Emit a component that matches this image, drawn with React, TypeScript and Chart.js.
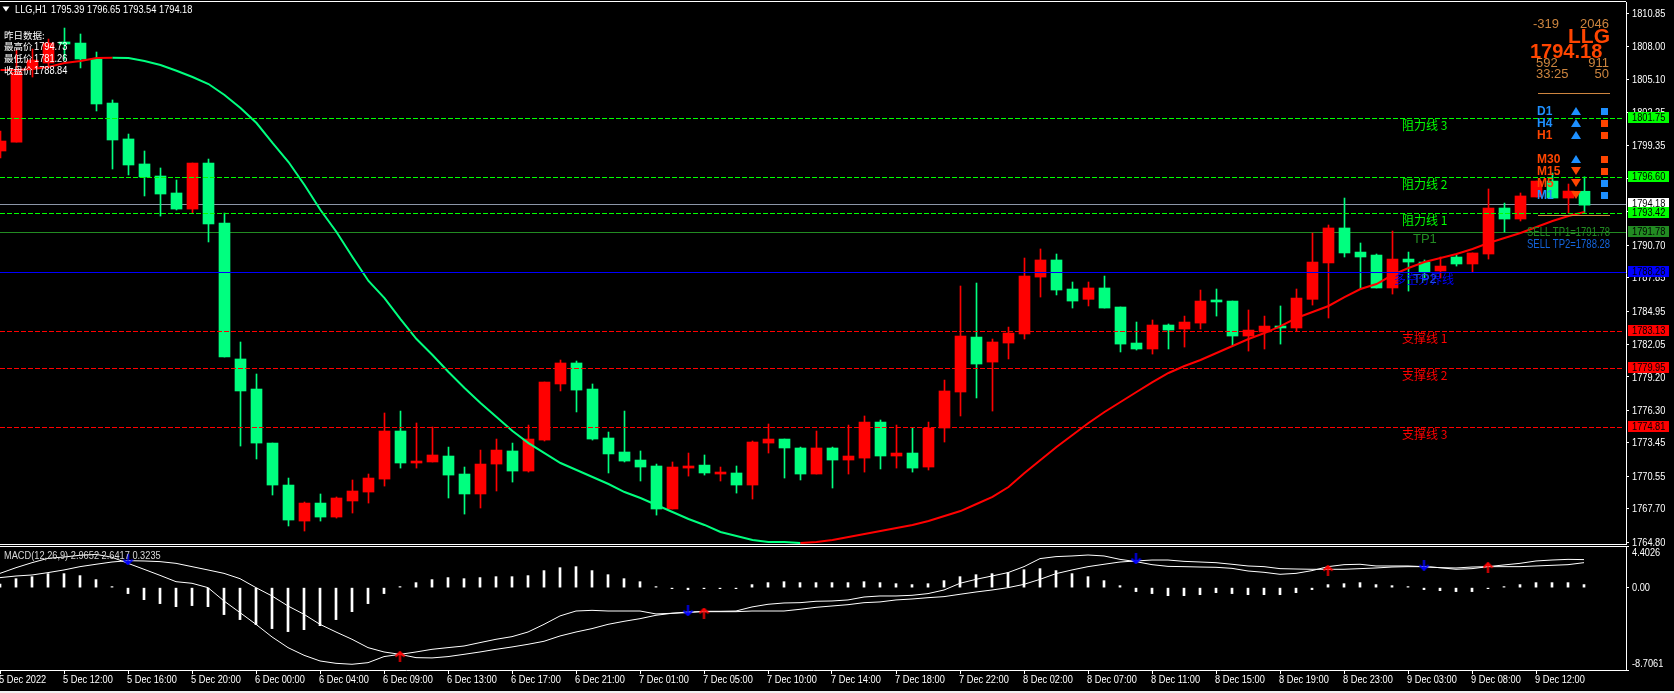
import React, { useEffect, useRef } from "react";
import { Chart, registerables } from "chart.js";

Chart.register(...registerables);

// ---------- price data (H1 candles) ----------
const opens = [
  1798.90,1799.68,1806.14,1806.57,1808.31,1808.31,1806.92,1803.08,1799.95,1797.77,
  1796.72,1795.24,1793.84,1797.85,1792.62,1780.77,1778.15,1773.44,1769.78,1766.64,
  1768.21,1766.99,1768.39,1769.17,1770.30,1774.49,1771.70,1771.79,1772.31,1770.74,
  1769.00,1771.61,1772.75,1771.00,1773.70,1778.59,1780.42,1778.15,1773.88,1772.66,
  1771.96,1771.44,1767.69,1771.26,1771.52,1770.74,1770.83,1769.78,1773.44,1773.79,
  1773.01,1770.74,1773.01,1771.96,1772.13,1775.27,1772.31,1772.57,1771.35,1774.75,
  1777.89,1782.68,1780.50,1782.16,1782.95,1787.91,1789.40,1786.87,1785.97,1786.96,
  1785.30,1782.16,1781.64,1783.73,1783.38,1783.90,1785.91,1785.82,1782.77,1783.12,
  1783.64,1783.47,1785.97,1789.14,1792.19,1790.09,1789.83,1786.96,1789.48,1789.22,
  1788.44,1789.66,1789.05,1789.92,1793.93,1792.97,1794.89,1796.28,1794.80,1795.39,
];
const closes = [
  1799.77,1805.79,1806.83,1808.31,1808.23,1806.92,1803.00,1799.86,1797.68,1796.63,
  1795.15,1793.84,1797.85,1792.54,1780.94,1777.98,1773.44,1769.78,1766.73,1768.21,
  1766.99,1768.65,1769.26,1770.39,1774.49,1771.70,1771.87,1772.40,1770.65,1769.00,
  1771.61,1772.83,1771.00,1773.79,1778.76,1780.42,1778.06,1773.79,1772.49,1771.87,
  1771.35,1767.69,1771.35,1771.44,1770.83,1770.83,1769.78,1773.53,1773.79,1773.01,
  1770.74,1773.01,1771.96,1772.31,1775.27,1772.31,1772.57,1771.26,1774.75,1777.98,
  1782.77,1780.33,1782.25,1783.03,1788.00,1789.40,1786.78,1785.82,1786.96,1785.21,
  1782.07,1781.64,1783.73,1783.29,1783.99,1785.82,1785.74,1782.77,1783.29,1783.64,
  1783.47,1786.08,1789.22,1792.19,1790.01,1789.66,1786.96,1789.48,1789.22,1788.35,
  1788.87,1789.05,1790.01,1793.93,1792.97,1794.98,1796.28,1794.80,1795.41,1794.18,
];
const highs = [
  1800.64,1807.70,1807.79,1808.66,1809.62,1809.10,1807.53,1803.35,1800.38,1798.90,
  1797.42,1796.37,1797.85,1798.20,1793.49,1782.25,1779.46,1773.44,1770.39,1768.30,
  1769.00,1768.74,1770.22,1770.74,1776.06,1776.23,1775.19,1774.84,1773.09,1771.35,
  1772.83,1773.79,1773.44,1775.01,1778.76,1780.68,1780.59,1778.59,1774.40,1776.23,
  1772.75,1771.61,1771.79,1772.57,1772.40,1771.35,1771.44,1773.62,1775.10,1773.79,
  1773.09,1774.49,1773.09,1775.01,1775.80,1775.45,1775.01,1774.75,1775.27,1778.93,
  1787.13,1787.39,1782.51,1783.55,1789.57,1790.36,1789.92,1787.48,1787.48,1788.00,
  1785.30,1783.99,1784.17,1783.82,1784.51,1786.78,1786.87,1785.82,1785.04,1784.51,
  1785.39,1786.87,1791.75,1792.45,1794.80,1790.88,1789.92,1791.92,1790.09,1789.40,
  1789.66,1789.83,1790.01,1795.59,1794.36,1795.24,1796.28,1796.98,1796.02,1796.65,
];
const lows = [
  1798.29,1799.68,1805.35,1806.22,1806.83,1806.14,1802.39,1797.33,1796.81,1794.98,
  1793.23,1793.76,1793.49,1790.97,1780.94,1773.18,1772.05,1768.91,1766.21,1765.77,
  1766.64,1766.90,1767.34,1768.21,1769.69,1771.26,1771.26,1771.79,1768.65,1767.25,
  1767.78,1769.26,1770.04,1770.91,1773.62,1777.98,1776.15,1773.70,1770.83,1771.79,
  1770.13,1767.16,1767.69,1770.56,1770.65,1770.13,1769.08,1768.56,1772.57,1770.39,
  1770.22,1770.74,1769.52,1770.74,1770.91,1771.18,1771.26,1770.91,1771.09,1773.53,
  1775.80,1777.37,1776.23,1780.77,1782.51,1786.17,1786.35,1785.21,1785.39,1785.21,
  1781.38,1781.55,1781.20,1781.64,1781.81,1783.38,1784.51,1781.99,1781.46,1781.64,
  1782.07,1783.21,1785.47,1784.34,1789.66,1786.87,1786.96,1786.43,1786.69,1787.65,
  1787.83,1788.87,1788.35,1789.48,1791.84,1792.80,1794.89,1794.80,1793.49,1793.54,
];
const movingAverage = [
  1805.96,1805.96,1806.05,1806.22,1806.57,1806.75,1807.01,1807.03,1807.01,1806.75,
  1806.40,1805.90,1805.35,1804.74,1803.78,1802.65,1801.34,1799.60,1797.94,1795.94,
  1793.76,1791.84,1789.66,1787.57,1786.08,1784.25,1782.51,1781.12,1779.63,1778.24,
  1776.93,1775.71,1774.49,1773.44,1772.57,1771.70,1771.09,1770.48,1769.87,1769.17,
  1768.65,1768.04,1767.43,1766.82,1766.30,1765.69,1765.34,1764.99,1764.81,1764.81,
  1764.73,1764.81,1764.99,1765.25,1765.51,1765.77,1766.03,1766.30,1766.64,1767.08,
  1767.51,1768.13,1768.74,1769.61,1770.83,1771.96,1773.09,1774.14,1775.19,1776.15,
  1777.02,1777.89,1778.76,1779.55,1780.16,1780.68,1781.29,1781.90,1782.51,1783.03,
  1783.64,1784.34,1784.86,1785.39,1786.17,1786.87,1787.30,1788.09,1788.70,1789.22,
  1789.57,1789.92,1790.36,1790.88,1791.31,1791.75,1792.27,1792.80,1793.23,1793.58,
];

// ---------- MACD data ----------
const macdFast = [
  1.51,2.11,2.64,3.10,3.24,3.42,3.52,3.21,2.57,1.94,
  1.30,0.63,0.46,0.00,-1.41,-2.64,-3.88,-5.21,-6.34,-7.15,
  -7.75,-8.00,-8.10,-7.93,-7.29,-7.05,-6.80,-6.52,-6.34,-6.17,
  -5.81,-5.46,-5.18,-4.69,-3.88,-2.99,-2.47,-2.40,-2.47,-2.47,
  -2.47,-2.78,-2.71,-2.64,-2.50,-2.50,-2.47,-2.04,-1.76,-1.62,
  -1.59,-1.44,-1.41,-1.30,-0.99,-0.88,-0.88,-0.81,-0.63,-0.25,
  0.46,0.88,1.23,1.59,2.22,3.07,3.28,3.35,3.45,3.35,
  2.99,2.75,2.43,2.25,2.22,2.18,2.15,2.04,1.76,1.62,
  1.41,1.51,1.80,2.22,2.43,2.47,2.29,2.29,2.29,2.22,
  2.11,1.94,2.01,2.22,2.40,2.57,2.82,2.92,2.99,2.9652,
];
const macdSignal = [
  1.06,1.23,1.34,1.59,1.87,2.22,2.47,2.71,2.85,2.82,
  2.75,2.57,2.22,1.87,1.51,0.95,0.00,-0.88,-1.94,-2.82,
  -3.88,-4.69,-5.46,-6.34,-6.80,-7.05,-7.40,-7.43,-7.29,-7.05,
  -6.80,-6.52,-6.27,-5.99,-5.67,-5.11,-4.69,-4.33,-3.88,-3.56,
  -3.28,-2.92,-2.71,-2.57,-2.54,-2.54,-2.54,-2.47,-2.47,-2.47,
  -2.29,-2.08,-1.94,-1.80,-1.59,-1.51,-1.30,-1.20,-1.06,-0.95,
  -0.70,-0.46,-0.25,0.00,0.35,0.88,1.48,1.87,2.22,2.47,
  2.71,2.82,2.92,2.92,2.78,2.71,2.64,2.47,2.29,2.22,
  2.01,1.97,1.94,1.94,1.94,2.01,2.08,2.18,2.22,2.22,
  2.11,2.08,2.18,2.22,2.22,2.22,2.29,2.36,2.43,2.6417,
];
const macdHistogram = [
  0.39,0.95,1.16,1.48,1.48,1.27,0.85,0.11,-0.63,-1.27,
  -1.69,-2.01,-1.90,-2.01,-2.85,-3.38,-3.91,-4.33,-4.65,-4.44,
  -4.02,-3.38,-2.54,-1.69,-0.63,0.11,0.53,0.85,1.06,0.95,
  1.06,1.16,1.16,1.27,1.80,2.11,2.22,1.80,1.37,0.95,
  0.63,0.11,-0.11,-0.21,-0.11,-0.11,-0.11,0.32,0.53,0.63,
  0.53,0.53,0.53,0.53,0.63,0.53,0.42,0.32,0.42,0.74,
  1.16,1.37,1.48,1.59,1.90,2.01,1.80,1.48,1.16,0.74,
  0.21,-0.42,-0.63,-0.85,-0.85,-0.74,-0.53,-0.63,-0.74,-0.74,
  -0.74,-0.53,-0.21,0.32,0.42,0.53,0.32,0.21,0.11,-0.21,
  -0.32,-0.42,-0.42,-0.11,0.11,0.32,0.53,0.53,0.53,0.3235,
];
const sellSignals = [[8, 2.96], [43, -2.43], [71, 3.07], [89, 2.38]];
const buySignals = [[25, -7.29], [44, -2.70], [83, 1.80], [93, 2.11]];

// ---------- axes ----------
const priceTicks = [
  1810.85,1808.00,1805.10,1802.25,1799.35,1796.50,1793.60,1790.70,1787.85,
  1784.95,1782.05,1779.20,1776.30,1773.45,1770.55,1767.70,1764.80,
];
const macdTicks = [4.4026, 0, -8.7061];
const macdTickTexts = ["4.4026", "0.00", "-8.7061"];
const timeLabels = [
  "5 Dec 2022","5 Dec 12:00","5 Dec 16:00","5 Dec 20:00","6 Dec 00:00","6 Dec 04:00","6 Dec 09:00",
  "6 Dec 13:00","6 Dec 17:00","6 Dec 21:00","7 Dec 01:00","7 Dec 05:00","7 Dec 10:00","7 Dec 14:00",
  "7 Dec 18:00","7 Dec 22:00","8 Dec 02:00","8 Dec 07:00","8 Dec 11:00","8 Dec 15:00","8 Dec 19:00",
  "8 Dec 23:00","9 Dec 03:00","9 Dec 08:00","9 Dec 12:00",
];

// ---------- horizontal levels ----------
const resistanceLevels = [1801.75, 1796.60, 1793.42];
const resistanceNames = ["阻力线 3", "阻力线 2", "阻力线 1"];
const supportLevels = [1783.13, 1779.95, 1774.81];
const supportNames = ["支撑线 1", "支撑线 2", "支撑线 3"];
const currentPrice = 1794.18;
const tp1Level = 1791.78;
const tp2Level = 1788.28;
const yesterdayNames = ["最高价", "最低价", "收盘价"];
const yesterdayValues = [1794.73, 1781.26, 1788.84];
const timeframes = ["D1", "H4", "H1", "M30", "M15", "M5", "M1"];
const tfUp = [true, true, true, true, false, false, false];
const tfBlueText = [true, true, false, false, false, false, true];
const tfBlueSquare = [true, false, false, false, false, true, true];

const GREEN = "#00FF7F";
const RED = "#FF0000";
const LIME = "#00FF00";
const FOREST = "#228B22";
const BLUE = "#0000FF";
const ORANGE = "#FF4500";
const PERU = "#CD853F";
const DODGER = "#1E90FF";
const SANS = '"Liberation Sans", sans-serif';
const AXIS_FONT = `11px ${SANS}`;
const AXIS_SQUEEZE = 0.84;
const CJK = '"Noto Sans CJK SC", sans-serif';
const X_MAX_PX = 1626;
const BAR_STEP = 16;

function put(ctx: CanvasRenderingContext2D, text: string, x: number, y: number, color: string, font: string, align: CanvasTextAlign = "left", squeeze = 1) {
  ctx.save();
  ctx.font = font;
  ctx.fillStyle = color;
  ctx.textAlign = align;
  ctx.textBaseline = "middle";
  ctx.translate(x, y);
  ctx.scale(squeeze, 1);
  ctx.fillText(text, 0, 0);
  ctx.restore();
}

const axisText = (ctx: CanvasRenderingContext2D, text: string, x: number, y: number, color = "#FFFFFF") =>
  put(ctx, text, x, y, color, AXIS_FONT, "left", AXIS_SQUEEZE);

function hline(ctx: CanvasRenderingContext2D, x0: number, x1: number, y: number, color: string) {
  ctx.fillStyle = color;
  ctx.fillRect(x0, y, x1 - x0, 1);
}

function dashedLine(ctx: CanvasRenderingContext2D, x1: number, y: number, color: string) {
  ctx.strokeStyle = color;
  ctx.lineWidth = 1;
  ctx.setLineDash([5, 2]);
  ctx.beginPath();
  ctx.moveTo(0, y + 0.5);
  ctx.lineTo(x1, y + 0.5);
  ctx.stroke();
  ctx.setLineDash([]);
}

function triangle(ctx: CanvasRenderingContext2D, cx: number, cy: number, w: number, h: number, up: boolean, color: string) {
  ctx.fillStyle = color;
  ctx.beginPath();
  if (up) {
    ctx.moveTo(cx, cy - h / 2);
    ctx.lineTo(cx + w / 2, cy + h / 2);
    ctx.lineTo(cx - w / 2, cy + h / 2);
  } else {
    ctx.moveTo(cx, cy + h / 2);
    ctx.lineTo(cx + w / 2, cy - h / 2);
    ctx.lineTo(cx - w / 2, cy - h / 2);
  }
  ctx.closePath();
  ctx.fill();
}

function arrowImage(color: string, up: boolean) {
  const c = document.createElement("canvas");
  c.width = 11;
  c.height = 11;
  const g = c.getContext("2d")!;
  g.strokeStyle = color;
  g.lineWidth = 2;
  g.beginPath();
  if (up) {
    g.moveTo(5.5, 11);
    g.lineTo(5.5, 1);
    g.moveTo(1, 5.5);
    g.lineTo(5.5, 1);
    g.lineTo(10, 5.5);
  } else {
    g.moveTo(5.5, 0);
    g.lineTo(5.5, 10);
    g.moveTo(1, 5.5);
    g.lineTo(5.5, 10);
    g.lineTo(10, 5.5);
  }
  g.stroke();
  return c;
}

// whole-pixel row of a price, so thin level lines stay crisp
const levelRow = (scale: any, value: number) => Math.floor(scale.getPixelForValue(value) - 0.2);

const mainOverlay = {
  id: "mainOverlay",
  beforeDatasetsDraw(chart: any) {
    const ctx: CanvasRenderingContext2D = chart.ctx;
    const y = chart.scales.y;
    ctx.save();
    hline(ctx, 0, X_MAX_PX, levelRow(y, currentPrice), "#8C96A8");
    hline(ctx, 0, X_MAX_PX, levelRow(y, tp1Level), FOREST);
    ctx.restore();
  },
  afterDatasetsDraw(chart: any) {
    const ctx: CanvasRenderingContext2D = chart.ctx;
    const y = chart.scales.y;
    ctx.save();
    resistanceLevels.forEach((v) => dashedLine(ctx, X_MAX_PX - 2, levelRow(y, v), LIME));
    supportLevels.forEach((v) => dashedLine(ctx, X_MAX_PX - 2, levelRow(y, v), RED));
    hline(ctx, 0, X_MAX_PX, levelRow(y, tp2Level), BLUE);
    ctx.restore();
  },
  afterDraw(chart: any) {
    const ctx: CanvasRenderingContext2D = chart.ctx;
    const y = chart.scales.y;
    ctx.save();
    // frame
    hline(ctx, 0, X_MAX_PX, 1, "#FFFFFF");
    hline(ctx, 0, X_MAX_PX, 544, "#FFFFFF");

    // axis labels
    priceTicks.forEach((v) => axisText(ctx, v.toFixed(2), 1632, y.getPixelForValue(v) + 0.5));

    // header
    triangle(ctx, 6, 9, 7, 5, false, "#FFFFFF");
    axisText(ctx, "LLG,H1", 15, 9.5);
    const last = opens.length - 1;
    [opens[last], highs[last], lows[last], closes[last]].forEach((v, i) => {
      axisText(ctx, v.toFixed(2), 51 + i * 36, 9.5);
    });
    // yesterday comment
    const cjkSmall = `9.5px ${CJK}`;
    put(ctx, "昨日数据:", 4, 35, "#FFFFFF", cjkSmall);
    yesterdayNames.forEach((n, i) => {
      const cy = 46.5 + i * 12;
      put(ctx, n, 4, cy, "#FFFFFF", cjkSmall);
      axisText(ctx, yesterdayValues[i].toFixed(2), 34, cy);
    });

    // level captions
    const cap = `12px ${CJK}`;
    resistanceLevels.forEach((v, i) => put(ctx, resistanceNames[i], 1402, y.getPixelForValue(v) + 7, LIME, cap));
    supportLevels.forEach((v, i) => put(ctx, supportNames[i], 1402, y.getPixelForValue(v) + 7, RED, cap));
    put(ctx, "TP1", 1413, y.getPixelForValue(tp1Level) + 7, FOREST, `13px ${SANS}`);
    put(ctx, "多空分界线", 1394, y.getPixelForValue(tp2Level) + 7, BLUE, cap);
    put(ctx, "TP2", 1413, y.getPixelForValue(tp2Level) + 7, "#1E50E0", `13px ${SANS}`);

    // right info panel
    const info = `13px ${SANS}`;
    put(ctx, "-319", 1533, 24, PERU, info);
    put(ctx, "2046", 1609, 24, PERU, info, "right");
    put(ctx, "LLG", 1610, 37, ORANGE, `bold 21px ${SANS}`, "right");
    put(ctx, currentPrice.toFixed(2), 1530, 52, ORANGE, `bold 20px ${SANS}`);
    put(ctx, "592", 1536, 63, PERU, info);
    put(ctx, "911", 1609, 63, PERU, info, "right");
    put(ctx, "33:25", 1536, 74, PERU, info);
    put(ctx, "50", 1609, 74, PERU, info, "right");
    hline(ctx, 1538, 1610, 93, PERU);
    hline(ctx, 1538, 1610, 215, PERU);

    // timeframe table
    const rowY = [112, 124, 136, 160, 172, 184, 196];
    timeframes.forEach((tf, i) => {
      put(ctx, tf, 1537, rowY[i], tfBlueText[i] ? DODGER : ORANGE, `bold 12px ${SANS}`);
      triangle(ctx, 1576, rowY[i] - 1, 10, 8, tfUp[i], tfUp[i] ? DODGER : ORANGE);
      ctx.fillStyle = tfBlueSquare[i] ? DODGER : ORANGE;
      ctx.fillRect(1601, rowY[i] - 4, 7, 7);
    });
    const sell = `13px ${SANS}`;
    put(ctx, `SELL TP1=${tp1Level.toFixed(2)}`, 1527, 232.5, FOREST, sell, "left", 0.73);
    put(ctx, `SELL TP2=${tp2Level.toFixed(2)}`, 1527, 244.5, "#1464DC", sell, "left", 0.73);

    // price boxes on the axis
    const boxes: [number, string][] = [
      [resistanceLevels[0], LIME],
      [resistanceLevels[1], LIME],
      [currentPrice, "#FFFFFF"],
      [resistanceLevels[2], LIME],
      [tp1Level, FOREST],
      [tp2Level, BLUE],
      [supportLevels[0], RED],
      [supportLevels[1], RED],
      [supportLevels[2], RED],
    ];
    boxes.forEach(([v, color]) => {
      const py = levelRow(y, v);
      ctx.fillStyle = color;
      ctx.fillRect(1628, py - 6, 41, 11);
      axisText(ctx, v.toFixed(2), 1632, py - 0.5, "#000000");
    });
    ctx.restore();
  },
};

const macdOverlay = {
  id: "macdOverlay",
  afterDraw(chart: any) {
    const ctx: CanvasRenderingContext2D = chart.ctx;
    const x = chart.scales.x;
    ctx.save();
    hline(ctx, 0, X_MAX_PX, 0, "#FFFFFF");
    const n = macdFast.length - 1;
    const title = `MACD(12,26,9) ${macdFast[n].toFixed(4)} ${macdSignal[n].toFixed(4)} ${macdHistogram[n].toFixed(4)}`;
    axisText(ctx, title, 4, 10, "#D8D8D8");
    const ys = [7, 42, 118];
    macdTickTexts.forEach((t, i) => axisText(ctx, t, 1632, ys[i]));
    timeLabels.forEach((label, i) => axisText(ctx, label, x.getPixelForValue(i * 4) - 1, 134));
    ctx.restore();
  },
};

export default function App() {
  const mainRef = useRef<HTMLCanvasElement>(null);
  const macdRef = useRef<HTMLCanvasElement>(null);

  useEffect(() => {
    document.body.style.margin = "0";
    document.body.style.background = "#000";
    document.body.style.overflow = "hidden";

    const idx = opens.map((_, i) => i);
    const colorOf = (i: number) => (closes[i] >= opens[i] ? RED : GREEN);
    const xMin = -0.5 / BAR_STEP;
    const xMax = xMin + X_MAX_PX / BAR_STEP;

    const main = new Chart(mainRef.current!, {
      type: "bar",
      data: {
        datasets: [
          {
            type: "bar",
            data: idx.map((i) => ({ x: i, y: [lows[i], highs[i]] })),
            backgroundColor: idx.map(colorOf),
            barThickness: 1,
            grouped: false,
            order: 12,
          },
          {
            type: "bar",
            data: idx.map((i) => ({ x: i, y: [opens[i], closes[i]] })),
            backgroundColor: idx.map(colorOf),
            barThickness: 11,
            minBarLength: 2,
            grouped: false,
            order: 11,
          },
          {
            type: "line",
            data: idx.map((i) => ({ x: i, y: movingAverage[i] })),
            borderWidth: 2,
            borderColor: RED,
            pointRadius: 0,
            order: 5,
            segment: {
              borderColor: (c: any) => (c.p0DataIndex >= 7 && c.p0DataIndex < 50 ? GREEN : RED),
            },
          },
        ] as any,
      },
      options: {
        responsive: false,
        animation: false,
        devicePixelRatio: 1,
        layout: { autoPadding: false, padding: { top: 2, bottom: 2, left: 0, right: 0 } },
        plugins: { legend: { display: false }, tooltip: { enabled: false } },
        scales: {
          x: { type: "linear", min: xMin, max: xMax, offset: false, display: false },
          y: {
            position: "right",
            min: 1764.64,
            max: 1811.89,
            afterFit: (s: any) => { s.width = 48; },
            afterBuildTicks: (s: any) => { s.ticks = priceTicks.map((value) => ({ value })); },
            grid: { drawOnChartArea: false, drawTicks: true, tickLength: 3, tickColor: "#FFFFFF", color: "#FFFFFF" },
            border: { display: true, color: "#FFFFFF" },
            ticks: { display: false, autoSkip: false },
          },
        },
      } as any,
      plugins: [mainOverlay],
    });

    const macd = new Chart(macdRef.current!, {
      type: "bar",
      data: {
        datasets: [
          {
            type: "bar",
            data: idx.map((i) => ({ x: i, y: macdHistogram[i] })),
            backgroundColor: "#FFFFFF",
            barThickness: 2,
            minBarLength: 1,
            order: 5,
          },
          {
            type: "line",
            data: idx.map((i) => ({ x: i, y: macdFast[i] })),
            borderColor: "#FFFFFF",
            borderWidth: 1,
            pointRadius: 0,
            order: 4,
          },
          {
            type: "line",
            data: idx.map((i) => ({ x: i, y: macdSignal[i] })),
            borderColor: "#FFFFFF",
            borderWidth: 1,
            pointRadius: 0,
            order: 3,
          },
          {
            type: "line",
            data: sellSignals.map(([x, y]) => ({ x, y })),
            showLine: false,
            pointStyle: arrowImage("#0000FF", false),
            order: 1,
          },
          {
            type: "line",
            data: buySignals.map(([x, y]) => ({ x, y })),
            showLine: false,
            pointStyle: arrowImage("#FF0000", true),
            order: 1,
          },
        ] as any,
      },
      options: {
        responsive: false,
        animation: false,
        devicePixelRatio: 1,
        layout: { autoPadding: false, padding: 0 },
        plugins: { legend: { display: false }, tooltip: { enabled: false } },
        scales: {
          x: {
            type: "linear",
            min: 0,
            max: X_MAX_PX / BAR_STEP,
            offset: false,
            afterFit: (s: any) => { s.height = 21; },
            afterBuildTicks: (s: any) => { s.ticks = timeLabels.map((_, i) => ({ value: i * 4 })); },
            grid: { drawOnChartArea: false, drawTicks: true, tickLength: 4, tickColor: "#FFFFFF", color: "#FFFFFF", offset: false },
            border: { display: true, color: "#FFFFFF" },
            ticks: { display: false, autoSkip: false },
          },
          y: {
            position: "right",
            min: macdTicks[2],
            max: macdTicks[0],
            afterFit: (s: any) => { s.width = 48; },
            afterBuildTicks: (s: any) => { s.ticks = macdTicks.map((value) => ({ value })); },
            grid: { drawOnChartArea: false, drawTicks: true, tickLength: 3, tickColor: "#FFFFFF", color: "#FFFFFF" },
            border: { display: true, color: "#FFFFFF" },
            ticks: { display: false, autoSkip: false },
          },
        },
      } as any,
      plugins: [macdOverlay],
    });

    return () => {
      main.destroy();
      macd.destroy();
    };
  }, []);

  return (
    <div style={{ position: "relative", width: 1674, height: 693, background: "#000", overflow: "hidden" }}>
      <canvas ref={mainRef} width={1674} height={546} style={{ position: "absolute", left: 0, top: 0, display: "block" }} />
      <canvas ref={macdRef} width={1674} height={145} style={{ position: "absolute", left: 0, top: 546, display: "block" }} />
      <div style={{ position: "absolute", left: 0, top: 691, width: 1674, height: 2, background: "#F0F0F0" }} />
    </div>
  );
}
